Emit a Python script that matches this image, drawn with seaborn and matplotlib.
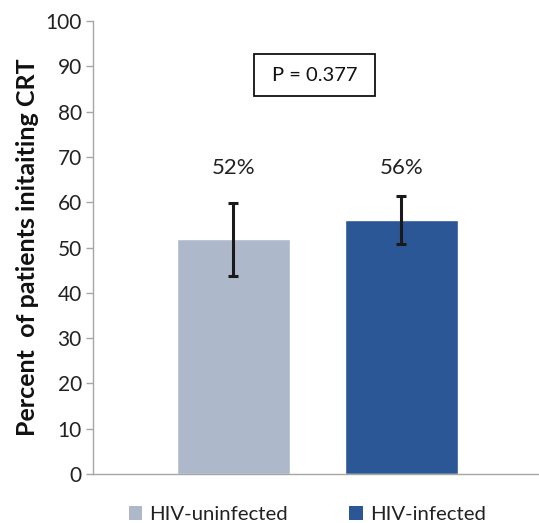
import matplotlib
matplotlib.use("Agg")
import matplotlib.pyplot as plt
import seaborn as sns
import numpy as np
from matplotlib.patches import Patch, Rectangle

groups = ["HIV-uninfected", "HIV-infected"]
values = [51.9, 56.1]
err_low = [43.8, 50.8]
err_high = [59.8, 61.3]
labels = ["52%", "56%"]
colors = ["#ADB9CA", "#2B5797"]
p_text = "P = 0.377"
yticks = list(range(0, 101, 10))

sns.set_theme(style="white")
plt.rcParams['font.family'] = ['Lato', 'DejaVu Sans']

fig = plt.figure(figsize=(5.39, 5.23), dpi=100)
ax = fig.add_axes([0.1725, 0.0937, 0.8275, 0.866])

sns.barplot(x=groups, y=values, hue=groups, palette=colors, width=0.67,
            ax=ax, legend=False, saturation=1)

xs = np.arange(len(groups))
vals = np.array(values)
yerr = np.array([vals - np.array(err_low), np.array(err_high) - vals])
ax.errorbar(xs, vals, yerr=yerr, fmt='none', ecolor='#1a1a1a',
            elinewidth=2.2, capsize=3.8, capthick=2.2)

for x, lab in zip(xs, labels):
    ax.text(x, 67.5, lab, ha='center', va='center', fontsize=16, color='#222222')

ax.add_patch(Rectangle((0.122, 83.4), 0.72, 9.3, facecolor='white',
                       edgecolor='#111111', linewidth=1.3, zorder=3))
ax.text(0.482, 88, p_text, ha='center', va='center', fontsize=14.5, color='#111111', zorder=4)

ax.set_xlim(-0.836, 1.82)
ax.set_ylim(0, 100)
ax.set_yticks(yticks)
ax.set_yticklabels([str(t) for t in yticks], fontsize=15, color='#222222')
ax.set_xticks([])
ax.set_ylabel("Percent  of patients initaiting CRT", fontsize=18, fontweight='bold',
              color='#111111', labelpad=5)

for s in ['top', 'right']:
    ax.spines[s].set_visible(False)
for s in ['left', 'bottom']:
    ax.spines[s].set_color('#a6a6a6')
    ax.spines[s].set_linewidth(1.0)
ax.tick_params(axis='y', which='both', left=True, length=5, width=1, color='#a6a6a6', pad=3)

handles = [Patch(facecolor=c, edgecolor='none', label=g) for c, g in zip(colors, groups)]
fig.legend(handles=handles, loc='lower center', bbox_to_anchor=(0.57, -0.035), ncol=2,
           frameon=False, fontsize=14.7, handlelength=0.65, handleheight=0.65,
           handletextpad=0.35, columnspacing=3.0, labelcolor='#222222')

fig.savefig("out.png", dpi=100)
